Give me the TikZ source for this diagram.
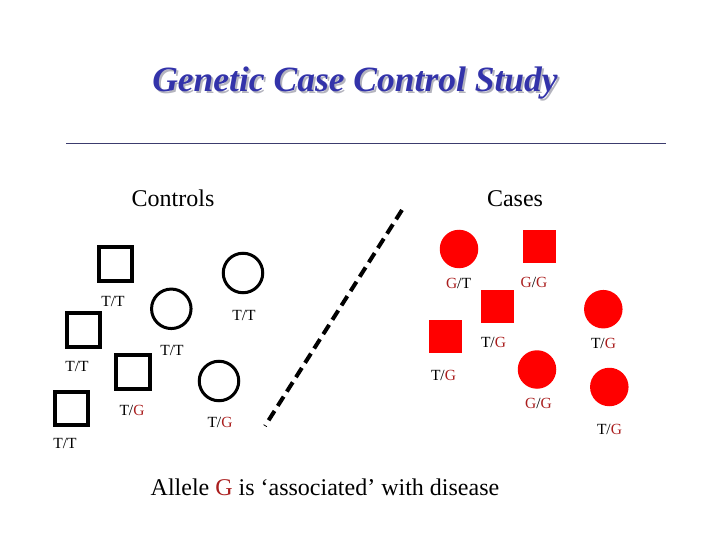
\documentclass[tikz,border=0pt]{standalone}
\usepackage{fontspec}
\setmainfont{Liberation Serif}
\definecolor{titleblue}{RGB}{51,51,170}
\definecolor{titleshadow}{RGB}{180,180,190}
\definecolor{gred}{RGB}{170,30,30}
\definecolor{casered}{RGB}{255,0,0}
\definecolor{rulecol}{RGB}{60,60,110}
\newcommand{\Gr}{\textcolor{gred}{G}}
\newcommand{\TitleText}{Genetic Case Control Study}
\begin{document}
\begin{tikzpicture}[x=1pt,y=-1pt,
  ctlsq/.style={draw=black, line width=4pt, minimum size=33.5pt, inner sep=0pt, rectangle},
  ctlci/.style={draw=black, line width=3pt, minimum size=39.5pt, inner sep=0pt, circle},
  casesq/.style={fill=casered, minimum size=33pt, inner sep=0pt, rectangle},
  caseci/.style={fill=casered, minimum size=38.5pt, inner sep=0pt, circle},
  geno/.style={font=\fontsize{15.5}{15.5}\selectfont, text height=10pt, text depth=0pt, inner sep=0pt},
  head/.style={font=\fontsize{24}{24}\selectfont, anchor=base, inner sep=0pt},
  titletext/.style={font=\fontsize{35.5}{35.5}\selectfont\bfseries\itshape, anchor=base, inner sep=0pt},
]
\useasboundingbox (0,0) rectangle (720,540);
% title with drop shadow (one text node)
\node[titletext] (title) at (355,92)
  {\makebox[0pt][l]{\hspace{2pt}\raisebox{-2pt}{\textcolor{titleshadow}{\TitleText}}}\textcolor{titleblue}{\TitleText}};
\coordinate (ruleL) at (66,144);
\coordinate (ruleR) at (666,144);
\draw[rulecol, line width=1pt] (ruleL) -- (ruleR);
% headings
\node[head] (controls) at (173,207) {Controls};
\node[head] (cases) at (515,207) {Cases};
% dividing line
\coordinate (divtop) at (402,210);
\coordinate (divbot) at (265,426);
\draw[line width=4pt, dash pattern=on 11pt off 6pt] (divtop) -- (divbot);
% controls
\node[ctlsq] (s1) at (115.5,264) {};
\node[geno] (s1l) at (113,301.5) {T/T};
\node[ctlsq] (s2) at (83.7,330) {};
\node[geno] (s2l) at (77,366) {T/T};
\node[ctlsq] (s3) at (133,372) {};
\node[geno] (s3l) at (132,410.5) {T/\Gr};
\node[ctlsq] (s4) at (71.3,408.3) {};
\node[geno] (s4l) at (65,443) {T/T};
\node[ctlci] (c1) at (171.3,308.8) {};
\node[geno] (c1l) at (172,350) {T/T};
\node[ctlci] (c2) at (243,273) {};
\node[geno] (c2l) at (244,315) {T/T};
\node[ctlci] (c3) at (219,381) {};
\node[geno] (c3l) at (220,422.5) {T/\Gr};
% cases
\node[caseci] (ca) at (459,249) {};
\node[geno] (cal) at (458.5,283.5) {\Gr/T};
\node[casesq] (cb) at (539.7,246.3) {};
\node[geno] (cbl) at (534,282) {\Gr/\Gr};
\node[casesq] (cc) at (497.5,306.3) {};
\node[geno] (ccl) at (493.5,342) {T/\Gr};
\node[casesq] (cd) at (445.3,336.3) {};
\node[geno] (cdl) at (443.5,375) {T/\Gr};
\node[caseci] (ce) at (603.3,309.2) {};
\node[geno] (cel) at (603.5,343.5) {T/\Gr};
\node[caseci] (cf) at (537,369.5) {};
\node[geno] (cfl) at (538.5,403) {\Gr/\Gr};
\node[caseci] (cg) at (609.3,387) {};
\node[geno] (cgl) at (609.5,429.5) {T/\Gr};
% conclusion
\node[head] (concl) at (325,495) {Allele \Gr{} is ‘associated’ with disease};
\end{tikzpicture}
\end{document}
